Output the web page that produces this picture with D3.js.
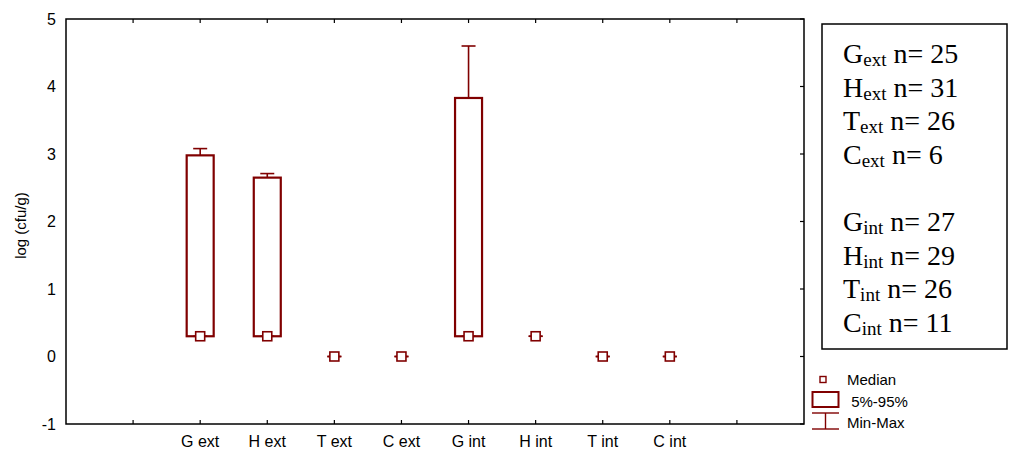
<!DOCTYPE html>
<html>
<head>
<meta charset="utf-8">
<script src="https://cdn.jsdelivr.net/npm/d3@7"></script>
<style>
  html, body { margin: 0; padding: 0; background: #fff; }
  svg { display: block; }
</style>
</head>
<body>
<script>
// Groups along the x axis
const categories = ["G ext", "H ext", "T ext", "C ext", "G int", "H int", "T int", "C int"];
// Box-plot statistics, log (cfu/g)
const medians = [0.30, 0.30, 0.00, 0.00, 0.30, 0.30, 0.00, 0.00];
const p5      = [0.30, 0.30, 0.00, 0.00, 0.30, 0.30, 0.00, 0.00];
const p95     = [2.98, 2.65, 0.00, 0.00, 3.83, 0.30, 0.00, 0.00];
const mins    = [0.30, 0.30, 0.00, 0.00, 0.30, 0.30, 0.00, 0.00];
const maxs    = [3.08, 2.71, 0.00, 0.00, 4.60, 0.30, 0.00, 0.00];
// Y tick values
const yTicks = [-1, 0, 1, 2, 3, 4, 5];
// Sample sizes shown in the side box
const nLetters = ["G", "H", "T", "C"];
const nExt = [25, 31, 26, 6];
const nInt = [27, 29, 26, 11];
// Legend entries
const legendLabels = ["Median", " 5%-95%", "Min-Max"];

const W = 1010, H = 453;
const red = "#800000";
const sans = "'Liberation Sans', Arial, sans-serif";
const serif = "'Liberation Serif', 'Times New Roman', serif";

const svg = d3.select("body").append("svg").attr("width", W).attr("height", H);

// Plot frame
const pLeft = 66, pRight = 804, pTop = 19, pBottom = 424;
const nSlots = categories.length + 3;
const x = d3.scaleLinear().domain([0, nSlots]).range([pLeft, pRight]);
const y = d3.scaleLinear().domain([-1, 5]).range([pBottom, pTop]);
const slotOf = i => i + 2;
const tickSlots = d3.range(1, nSlots);

const frame = svg.append("g");
frame.append("rect")
  .attr("x", pLeft).attr("y", pTop)
  .attr("width", pRight - pLeft).attr("height", pBottom - pTop)
  .attr("fill", "none").attr("stroke", "#000").attr("stroke-width", 1.5);

// Top and bottom ticks (inward)
frame.selectAll("line.tt").data(tickSlots).join("line")
  .attr("class", "tt")
  .attr("x1", d => x(d)).attr("x2", d => x(d))
  .attr("y1", pTop).attr("y2", pTop + 4)
  .attr("stroke", "#000").attr("stroke-width", 1.2);
frame.selectAll("line.bt").data(tickSlots).join("line")
  .attr("class", "bt")
  .attr("x1", d => x(d)).attr("x2", d => x(d))
  .attr("y1", pBottom).attr("y2", pBottom - 4)
  .attr("stroke", "#000").attr("stroke-width", 1.2);

// Right ticks (inward)
frame.selectAll("line.rt").data(yTicks).join("line")
  .attr("class", "rt")
  .attr("x1", pRight).attr("x2", pRight - 4)
  .attr("y1", d => y(d)).attr("y2", d => y(d))
  .attr("stroke", "#000").attr("stroke-width", 1.2);

// Y tick labels (plain hyphen for negatives)
frame.selectAll("text.yl").data(yTicks).join("text")
  .attr("class", "yl")
  .attr("x", pLeft - 10).attr("y", d => y(d))
  .attr("dy", "0.35em")
  .attr("text-anchor", "end")
  .attr("font-family", sans).attr("font-size", 16)
  .text(d => String(d));

// X tick labels
frame.selectAll("text.xl").data(categories).join("text")
  .attr("class", "xl")
  .attr("x", (d, i) => x(slotOf(i))).attr("y", 447)
  .attr("text-anchor", "middle")
  .attr("font-family", sans).attr("font-size", 16)
  .text(d => d);

// Y axis title
svg.append("text")
  .attr("transform", `translate(26,${(pTop + pBottom) / 2 + 4}) rotate(-90)`)
  .attr("text-anchor", "middle")
  .attr("font-family", sans).attr("font-size", 15)
  .text("log (cfu/g)");

// Boxes and whiskers
const boxW = 27, capW = 14, medS = 9;
const marks = svg.append("g");
categories.forEach((c, i) => {
  const cx = x(slotOf(i));
  const g = marks.append("g");
  // upper whisker
  g.append("line")
    .attr("x1", cx).attr("x2", cx)
    .attr("y1", y(p95[i])).attr("y2", y(maxs[i]))
    .attr("stroke", red).attr("stroke-width", 1.6);
  g.append("line")
    .attr("x1", cx - capW / 2).attr("x2", cx + capW / 2)
    .attr("y1", y(maxs[i])).attr("y2", y(maxs[i]))
    .attr("stroke", red).attr("stroke-width", 1.6);
  // lower whisker
  g.append("line")
    .attr("x1", cx).attr("x2", cx)
    .attr("y1", y(mins[i])).attr("y2", y(p5[i]))
    .attr("stroke", red).attr("stroke-width", 1.6);
  g.append("line")
    .attr("x1", cx - capW / 2).attr("x2", cx + capW / 2)
    .attr("y1", y(mins[i])).attr("y2", y(mins[i]))
    .attr("stroke", red).attr("stroke-width", 1.6);
  // 5%-95% box
  if (p95[i] > p5[i]) {
    g.append("rect")
      .attr("x", cx - boxW / 2).attr("y", y(p95[i]))
      .attr("width", boxW).attr("height", y(p5[i]) - y(p95[i]))
      .attr("fill", "none").attr("stroke", red).attr("stroke-width", 2.2);
  }
  // median marker
  g.append("rect")
    .attr("x", cx - medS / 2).attr("y", y(medians[i]) - medS / 2)
    .attr("width", medS).attr("height", medS)
    .attr("fill", "#fff").attr("stroke", red).attr("stroke-width", 1.6);
});

// Sample-size box
const nb = svg.append("g");
nb.append("rect")
  .attr("x", 822).attr("y", 24).attr("width", 185).attr("height", 325)
  .attr("fill", "#fff").attr("stroke", "#000").attr("stroke-width", 1.5);
const nRows = [];
nLetters.forEach((l, i) => nRows.push({ letter: l, sub: "ext", n: nExt[i], row: i }));
nLetters.forEach((l, i) => nRows.push({ letter: l, sub: "int", n: nInt[i], row: i + 5 }));
const rowY = d3.scaleLinear().domain([0, 8]).range([63, 332]);
nRows.forEach(r => {
  const t = nb.append("text")
    .attr("x", 843).attr("y", rowY(r.row))
    .attr("font-family", serif).attr("font-size", 28).attr("fill", "#000");
  t.append("tspan").text(r.letter);
  t.append("tspan").attr("font-size", 19).attr("dy", 3).text(r.sub);
  t.append("tspan").attr("dy", -3).text(" n= " + r.n);
});

// Legend
const lg = svg.append("g");
lg.append("rect")
  .attr("x", 820).attr("y", 376.5).attr("width", 6).attr("height", 6)
  .attr("fill", "#fff").attr("stroke", red).attr("stroke-width", 1.4);
lg.append("rect")
  .attr("x", 812.5).attr("y", 392).attr("width", 26).attr("height", 15)
  .attr("fill", "none").attr("stroke", red).attr("stroke-width", 2);
lg.append("line").attr("x1", 812).attr("x2", 839).attr("y1", 413).attr("y2", 413)
  .attr("stroke", red).attr("stroke-width", 1.4);
lg.append("line").attr("x1", 825.5).attr("x2", 825.5).attr("y1", 413).attr("y2", 429)
  .attr("stroke", red).attr("stroke-width", 1.4);
lg.append("line").attr("x1", 812).attr("x2", 839).attr("y1", 429).attr("y2", 429)
  .attr("stroke", red).attr("stroke-width", 1.4);
const legendY = [385, 407, 428];
lg.selectAll("text").data(legendLabels).join("text")
  .attr("x", 847).attr("y", (d, i) => legendY[i])
  .attr("font-family", sans).attr("font-size", 15)
  .style("white-space", "pre")
  .text(d => d);
</script>
</body>
</html>
